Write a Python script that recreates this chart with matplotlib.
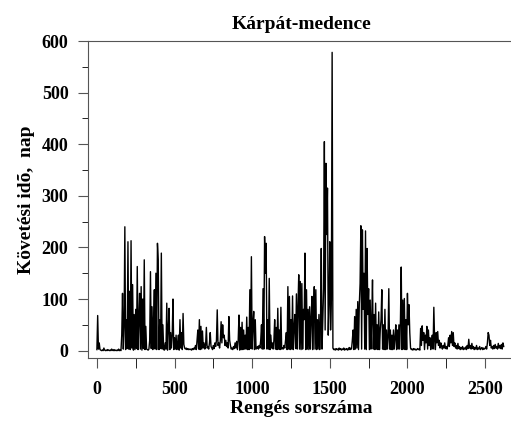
import numpy as np
import matplotlib.pyplot as plt
from matplotlib.ticker import MultipleLocator

# follow-up time (days) for every 5th earthquake
step = 5
row00 = [2, 68, 3, 15, 2, 1, 0, 1, 0, 5, 1, 0, 1, 0, 2, 1, 0, 1, 0, 3]
row01 = [1, 0, 2, 0, 1, 0, 1, 0, 3, 0, 1, 0, 30, 111, 3, 45, 240, 2, 60, 4]
row02 = [211, 3, 115, 2, 213, 5, 128, 1, 70, 2, 80, 4, 163, 2, 60, 111, 3, 124, 1, 100]
row03 = [4, 176, 2, 47, 3, 2, 1, 3, 20, 153, 4, 85, 2, 60, 118, 3, 150, 2, 208, 176]
row04 = [2, 60, 4, 189, 3, 50, 2, 1, 15, 3, 92, 1, 40, 82, 2, 35, 5, 30, 100, 2]
row05 = [25, 3, 30, 2, 15, 30, 1, 60, 5, 35, 2, 72, 12, 5, 3, 5, 2, 4, 2, 3]
row06 = [2, 3, 1, 4, 2, 5, 3, 10, 2, 20, 40, 3, 60, 2, 47, 3, 38, 5, 15, 3]
row07 = [10, 45, 5, 8, 3, 15, 35, 8, 5, 2, 10, 4, 15, 8, 20, 79, 10, 15, 5, 20]
row08 = [56, 15, 50, 25, 30, 10, 20, 8, 15, 5, 66, 20, 10, 3, 5, 2, 8, 4, 15, 5]
row09 = [18, 2, 20, 69, 1, 45, 2, 55, 2, 40, 3, 30, 3, 65, 2, 45, 2, 118, 4, 182]
row10 = [3, 50, 76, 2, 60, 3, 5, 8, 3, 10, 5, 20, 50, 3, 120, 3, 221, 150, 208, 3]
row11 = [60, 3, 140, 2, 30, 5, 15, 3, 20, 60, 3, 45, 2, 82, 3, 40, 2, 84, 3, 5]
row12 = [3, 10, 5, 20, 35, 2, 124, 3, 105, 2, 60, 3, 106, 2, 45, 70, 4, 110, 3, 85]
row13 = [147, 3, 134, 2, 130, 3, 80, 60, 189, 2, 118, 3, 80, 2, 85, 3, 65, 105, 2, 70]
row14 = [124, 3, 118, 2, 60, 3, 70, 2, 50, 198, 3, 60, 120, 405, 40, 363, 225, 315, 30, 95]
row15 = [211, 40, 98, 578, 5, 2, 3, 1, 4, 2, 3, 1, 5, 2, 4, 1, 3, 2, 5, 1]
row16 = [3, 2, 4, 1, 3, 6, 2, 5, 3, 20, 40, 2, 66, 3, 80, 5, 95, 2, 90, 130]
row17 = [242, 3, 234, 80, 150, 3, 232, 2, 198, 70, 120, 2, 98, 3, 60, 137, 3, 70, 2, 92]
row18 = [3, 50, 2, 75, 2, 40, 60, 118, 3, 50, 2, 80, 2, 40, 3, 25, 120, 3, 40, 2]
row19 = [30, 2, 40, 3, 25, 50, 2, 40, 3, 50, 3, 60, 162, 2, 98, 3, 101, 2, 60, 2]
row20 = [111, 50, 89, 35, 5, 2, 3, 1, 4, 2, 3, 1, 2, 4, 2, 3, 1, 43, 10, 48]
row21 = [20, 35, 2, 30, 15, 47, 3, 40, 10, 25, 2, 15, 30, 3, 84, 20, 2, 35, 15, 37]
row22 = [10, 20, 5, 15, 8, 3, 10, 5, 15, 4, 8, 3, 10, 25, 8, 30, 15, 37, 10, 35]
row23 = [8, 15, 5, 10, 3, 14, 4, 8, 2, 6, 3, 8, 2, 5, 3, 7, 2, 10, 4, 22]
row24 = [5, 10, 3, 14, 4, 8, 2, 6, 3, 10, 2, 5, 3, 8, 2, 4, 6, 2, 5, 3]
row25 = [4, 8, 3, 15, 35, 30, 10, 20, 5, 8, 3, 10, 4, 12, 5, 8, 3, 14, 5, 10]
row26 = [4, 12, 3, 15, 8]

rows = [row00, row01, row02, row03, row04, row05, row06, row07, row08, row09,
        row10, row11, row12, row13, row14, row15, row16, row17, row18, row19,
        row20, row21, row22, row23, row24, row25, row26]
days = np.concatenate([np.array(r, dtype=float) for r in rows])
event_no = np.arange(len(days)) * step

xticks = [0, 500, 1000, 1500, 2000, 2500]
yticks = [0, 100, 200, 300, 400, 500, 600]

plt.rcParams['font.family'] = ['Liberation Serif', 'DejaVu Serif']
plt.rcParams['font.weight'] = 'bold'
plt.rcParams['path.simplify'] = False

fig = plt.figure(figsize=(5.11, 4.21), dpi=100)
ax = fig.add_axes([0.172, 0.150, 0.835, 0.7526])

ax.plot(event_no, days, color='black', lw=1.0)

ax.set_xlim(-58, 2690)
ax.set_ylim(-14, 600)
ax.set_xticks(xticks)
ax.set_yticks(yticks)
ax.xaxis.set_minor_locator(MultipleLocator(250))
ax.yaxis.set_minor_locator(MultipleLocator(50))
ax.tick_params(axis='both', labelsize=13, color='#555', width=0.8)
ax.tick_params(axis='y', which='major', length=7, pad=7)
ax.tick_params(axis='y', which='minor', length=4)
ax.tick_params(axis='x', which='both', length=7, pad=10)
for lab in ax.get_xticklabels() + ax.get_yticklabels():
    lab.set_fontweight('bold')

for s in ['left', 'top', 'bottom']:
    ax.spines[s].set_color('#555')
    ax.spines[s].set_linewidth(0.8)
ax.spines['right'].set_visible(False)

ax.set_title('Kárpát-medence', fontsize=14, fontweight='bold', pad=9)
ax.set_xlabel('Rengés sorszáma', fontsize=14, fontweight='bold', labelpad=1)
ax.set_ylabel('Követési idõ,  nap', fontsize=14, fontweight='bold', labelpad=5)

fig.savefig('out.png', dpi=100)
